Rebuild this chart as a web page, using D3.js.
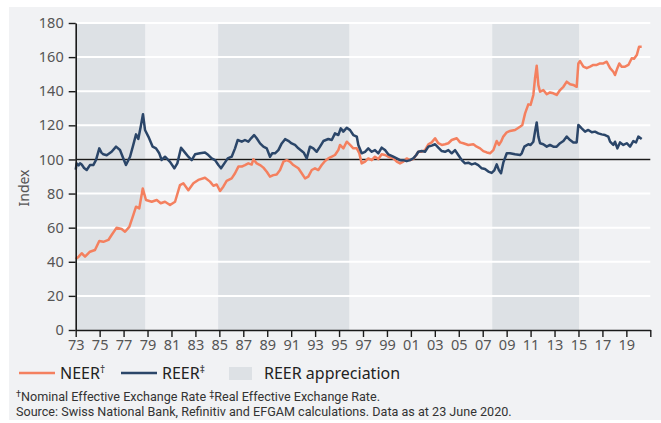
<!DOCTYPE html>
<meta charset="utf-8">
<head>
<script src="https://d3js.org/d3.v7.min.js"></script>
<style>
  body { margin: 0; background: #fff; }
  text { font-family: "Noto Sans", "Open Sans", sans-serif; }
</style>
</head>
<body>
<svg id="chart" width="661" height="423"></svg>

<script>
// Swiss franc effective exchange rates, index
var neer = [
  [1973.0, 41.6], [1973.25, 43], [1973.5, 45], [1973.78, 43], [1974.19, 45.9], [1974.61, 46.9],
  [1974.97, 52.2], [1975.31, 51.7], [1975.73, 52.8], [1976.0, 55.7], [1976.42, 60], [1976.84, 59.2],
  [1977.12, 57.6], [1977.48, 60.5], [1977.81, 67.4], [1978.04, 72.3], [1978.31, 71.3], [1978.6, 83],
  [1978.87, 76.2], [1979.35, 75.2], [1979.77, 76.2], [1980.10, 74.3], [1980.46, 75.2], [1980.88, 73.3],
  [1981.30, 75.2], [1981.71, 85], [1981.99, 86], [1982.41, 82], [1982.83, 86], [1983.24, 88],
  [1983.80, 89.3], [1984.22, 87], [1984.50, 84.6], [1984.78, 85.3], [1985.06, 81.5], [1985.33, 84],
  [1985.61, 87.4], [1986.03, 88.9], [1986.31, 91.9], [1986.59, 95.8], [1986.87, 95.8], [1987.14, 96.7],
  [1987.42, 97.7], [1987.70, 97], [1987.84, 100.1], [1988.12, 97.7], [1988.40, 96.7], [1988.68, 95.2],
  [1988.96, 92.8], [1989.23, 89.9], [1989.51, 90.8], [1989.79, 91.2], [1990.07, 93.8], [1990.35, 98.7],
  [1990.63, 99.6], [1990.90, 98.7], [1991.18, 96.7], [1991.60, 94.8], [1991.88, 91.9], [1992.16, 88.9],
  [1992.43, 89.9], [1992.72, 93.8], [1992.99, 94.8], [1993.27, 93.8], [1993.55, 96.7], [1993.83, 99.1],
  [1994.10, 100.6], [1994.39, 101.6], [1994.66, 102.6], [1994.94, 105.5], [1995.08, 108.5], [1995.36, 106.5],
  [1995.64, 110.4], [1995.92, 108.5], [1996.19, 106.5], [1996.48, 106.5], [1996.69, 103.6], [1996.89, 97.7],
  [1997.17, 98.7], [1997.44, 100.6], [1997.73, 99.6], [1998.0, 101.6], [1998.28, 100.2], [1998.56, 103],
  [1998.84, 102.6], [1999.11, 101.6], [1999.53, 100.6], [1999.82, 98.7], [2000.09, 97.7], [2000.37, 98.7],
  [2000.65, 100.6], [2000.93, 99.6], [2001.20, 100.2], [2001.45, 102.6], [2001.62, 104.5], [2001.91, 104.5],
  [2002.18, 105.5], [2002.46, 108.9], [2002.74, 110.0], [2003.02, 112.4], [2003.29, 109.5], [2003.58, 108.5],
  [2003.85, 108.9], [2004.13, 109.5], [2004.41, 111.4], [2004.83, 112.4], [2005.11, 110], [2005.38, 109.5],
  [2005.80, 108.5], [2006.22, 108.9], [2006.50, 107.5], [2006.78, 106.5], [2007.05, 104.9], [2007.34, 104.1],
  [2007.61, 103.6], [2007.89, 105.5], [2008.17, 110.8], [2008.36, 108.5], [2008.53, 110.4], [2008.72, 113.4],
  [2009.01, 115.9], [2009.28, 116.7], [2009.70, 117.3], [2010.12, 119.2], [2010.31, 120.2], [2010.54, 127],
  [2010.81, 132.3], [2011.0, 132], [2011.23, 137.8], [2011.37, 147.6], [2011.51, 155.0], [2011.65, 143.6],
  [2011.79, 139.7], [2012.06, 140.7], [2012.35, 138.2], [2012.62, 139.3], [2012.90, 138.8], [2013.18, 137.8],
  [2013.46, 140.7], [2013.74, 142.6], [2014.02, 145.6], [2014.30, 144.1], [2014.57, 143.7], [2014.85, 142.6],
  [2014.99, 156.3], [2015.13, 157.7], [2015.41, 154.4], [2015.69, 153.5], [2015.97, 154.4], [2016.24, 155.4],
  [2016.53, 155.4], [2016.80, 156.3], [2017.08, 156.3], [2017.36, 157.3], [2017.64, 153.5], [2017.91, 151.4],
  [2018.05, 149.5], [2018.25, 153.5], [2018.41, 156.3], [2018.61, 154.4], [2018.89, 154.4], [2019.17, 155.4],
  [2019.45, 159.3], [2019.64, 159], [2019.87, 161.2], [2020.06, 166.1], [2020.28, 166.1]
];

var reer = [
  [1973.0, 94], [1973.08, 97.7], [1973.25, 96.5], [1973.36, 97.7], [1973.5, 97], [1973.7, 95],
  [1973.92, 93.8], [1974.19, 96.7], [1974.47, 96.7], [1974.7, 99.7], [1974.97, 106.5], [1975.15, 104],
  [1975.31, 103], [1975.59, 102.5], [1976.0, 104.5], [1976.37, 107.5], [1976.7, 105.5], [1976.98, 100.6],
  [1977.2, 96.7], [1977.54, 101.6], [1977.81, 108.5], [1978.04, 114.7], [1978.23, 112], [1978.43, 119.2],
  [1978.62, 126.5], [1978.79, 117.3], [1979.07, 113.4], [1979.43, 107.5], [1979.71, 106.5], [1979.98, 103.6],
  [1980.18, 99.7], [1980.46, 101.6], [1980.88, 98.6], [1981.24, 94.8], [1981.49, 97.7], [1981.8, 106.9],
  [1982.13, 104], [1982.41, 101.6], [1982.69, 99.6], [1982.97, 103], [1983.38, 103.6], [1983.80, 104.1],
  [1984.08, 102.6], [1984.36, 100.6], [1984.64, 99.6], [1984.92, 96.7], [1985.14, 94.8], [1985.42, 97.7],
  [1985.70, 100.6], [1986.03, 101.6], [1986.31, 106.5], [1986.53, 111.4], [1986.87, 110.4], [1987.14, 111.4],
  [1987.42, 110.4], [1987.65, 112.4], [1987.90, 114.3], [1988.12, 112.4], [1988.40, 109.4], [1988.68, 107.5],
  [1988.96, 106.5], [1989.23, 101.6], [1989.42, 103.6], [1989.65, 103.6], [1989.93, 105.5], [1990.21, 109.4],
  [1990.49, 111.9], [1990.76, 110.9], [1991.04, 109.4], [1991.32, 108.5], [1991.60, 106.5], [1991.88, 105],
  [1992.05, 104], [1992.3, 100.6], [1992.57, 107.5], [1992.85, 106.5], [1993.13, 104.5], [1993.41, 107.5],
  [1993.69, 110.8], [1994.10, 112], [1994.39, 111.4], [1994.66, 115.3], [1994.94, 114.3], [1995.14, 118.2],
  [1995.36, 116.3], [1995.64, 118.6], [1995.92, 117.2], [1996.19, 114.3], [1996.48, 113.4], [1996.61, 108.5],
  [1996.89, 103.6], [1997.17, 104.5], [1997.44, 106.5], [1997.73, 104.5], [1998.0, 105.5], [1998.28, 103.6],
  [1998.56, 106.9], [1998.84, 105.5], [1999.11, 103], [1999.53, 101.6], [1999.82, 100.6], [2000.09, 99.6],
  [2000.37, 99.6], [2000.65, 99], [2000.93, 99.6], [2001.2, 100.6], [2001.45, 102.6], [2001.62, 104.5],
  [2001.91, 104.9], [2002.18, 104.5], [2002.46, 107.5], [2002.74, 108.1], [2003.02, 108.9], [2003.29, 106.9],
  [2003.58, 104.9], [2003.85, 104.5], [2004.13, 105.5], [2004.41, 103.6], [2004.69, 105.5], [2004.96, 102.6],
  [2005.25, 99.6], [2005.52, 97.7], [2005.80, 98.1], [2006.08, 97.1], [2006.36, 97.7], [2006.63, 96.7],
  [2006.92, 94.8], [2007.19, 94.4], [2007.47, 92.9], [2007.75, 92.1], [2007.97, 93.6], [2008.17, 97.1],
  [2008.36, 93.6], [2008.53, 91.9], [2008.72, 98.1], [2009.01, 103.6], [2009.28, 103.6], [2009.70, 103],
  [2010.12, 102.6], [2010.26, 103.6], [2010.48, 107.5], [2010.81, 108.9], [2011.0, 108.5], [2011.23, 110.4],
  [2011.37, 116.3], [2011.51, 121.7], [2011.65, 113.4], [2011.79, 109.5], [2012.06, 108.9], [2012.35, 107.5],
  [2012.62, 108.5], [2012.90, 107.5], [2013.18, 107.5], [2013.46, 109.5], [2013.74, 110.8], [2014.02, 113.4],
  [2014.30, 111.4], [2014.57, 110], [2014.85, 110], [2014.99, 120.2], [2015.27, 118.2], [2015.55, 116.3],
  [2015.82, 117.3], [2016.11, 115.9], [2016.38, 116.3], [2016.66, 115.3], [2016.94, 114.7], [2017.22, 114.3],
  [2017.49, 113.4], [2017.64, 110.4], [2017.91, 108.5], [2018.05, 110.4], [2018.25, 106.5], [2018.47, 110],
  [2018.75, 108.5], [2019.03, 109.5], [2019.31, 107.5], [2019.58, 110.8], [2019.81, 110], [2020.0, 113.4],
  [2020.28, 112]
];

// periods of REER appreciation (shaded)
var shaded = [[1973, 1978.8], [1984.9, 1995.85], [2007.8, 2015.05]];

var yTicks = [0, 20, 40, 60, 80, 100, 120, 140, 160, 180];
var xTicks = d3.range(1973, 2022, 2);

var svg = d3.select("#chart");

// grey panel
svg.append("rect")
  .attr("x", 9).attr("y", 7)
  .attr("width", 652).attr("height", 413)
  .attr("fill", "#f1f2f4");

var x = d3.scaleLinear().domain([1973, 2021]).range([75.7, 650.3]);
var y = d3.scaleLinear().domain([0, 180]).range([330, 23]);

// shaded periods
svg.append("g")
  .selectAll("rect")
  .data(shaded)
  .enter()
  .append("rect")
    .attr("x", function (d) { return x(d[0]); })
    .attr("width", function (d) { return x(d[1]) - x(d[0]); })
    .attr("y", y(180))
    .attr("height", y(0) - y(180))
    .attr("fill", "#dde1e5");

// white gridlines
svg.append("g")
  .selectAll("line")
  .data(yTicks.filter(function (d) { return d > 0; }))
  .enter()
  .append("line")
    .attr("x1", x(1973)).attr("x2", x(2021))
    .attr("y1", function (d) { return y(d); })
    .attr("y2", function (d) { return y(d); })
    .attr("stroke", "#fff")
    .attr("stroke-width", 2);

// line at 100
svg.append("line")
  .attr("x1", x(1973)).attr("x2", x(2021))
  .attr("y1", y(100)).attr("y2", y(100))
  .attr("stroke", "#1a1a1a")
  .attr("stroke-width", 1.4);

var line = d3.line()
  .x(function (d) { return x(d[0]); })
  .y(function (d) { return y(d[1]); });

svg.append("path")
  .datum(neer)
  .attr("d", line)
  .attr("fill", "none")
  .attr("stroke", "#f4805f")
  .attr("stroke-width", 2.5)
  .attr("stroke-linejoin", "round");

svg.append("path")
  .datum(reer)
  .attr("d", line)
  .attr("fill", "none")
  .attr("stroke", "#2b4669")
  .attr("stroke-width", 2.5)
  .attr("stroke-linejoin", "round");

// axes
var yAxis = svg.append("g")
  .attr("transform", "translate(" + x(1973) + ",0)")
  .call(d3.axisLeft(y).tickValues(yTicks).tickSize(7).tickSizeOuter(0).tickPadding(5));

var xAxis = svg.append("g")
  .attr("transform", "translate(0," + y(0) + ")")
  .call(d3.axisBottom(x).tickValues(xTicks).tickSize(7).tickSizeOuter(0).tickPadding(3)
    .tickFormat(function (d) { return d === 2021 ? "" : String(d).slice(2); }));

[yAxis, xAxis].forEach(function (g) {
  g.select(".domain").attr("stroke", "#1a1a1a").attr("stroke-width", 1.6);
  g.selectAll(".tick line").attr("stroke", "#1a1a1a").attr("stroke-width", 1.4);
  g.selectAll(".tick text")
    .attr("fill", "#555")
    .style("font-size", "14.5px")
    .style("font-family", "'Noto Sans', sans-serif");
});

// y label
svg.append("text")
  .attr("transform", "translate(29,188) rotate(-90)")
  .attr("text-anchor", "middle")
  .attr("fill", "#555")
  .style("font-size", "14px")
  .text("Index");

// legend
var legend = svg.append("g").attr("transform", "translate(0,373)");

legend.append("line")
  .attr("x1", 19).attr("x2", 55).attr("y1", 0).attr("y2", 0)
  .attr("stroke", "#f4805f").attr("stroke-width", 2.5);
var t1 = legend.append("text").attr("x", 60).attr("y", 6)
  .attr("fill", "#222").style("font-size", "16px");
t1.append("tspan").text("NEER");
t1.append("tspan").attr("dy", -6).style("font-size", "10px").text("\u2020");

legend.append("line")
  .attr("x1", 121).attr("x2", 157).attr("y1", 0).attr("y2", 0)
  .attr("stroke", "#2b4669").attr("stroke-width", 2.5);
var t2 = legend.append("text").attr("x", 162).attr("y", 6)
  .attr("fill", "#222").style("font-size", "16px");
t2.append("tspan").text("REER");
t2.append("tspan").attr("dy", -6).style("font-size", "10px").text("\u2021");

legend.append("rect")
  .attr("x", 229).attr("y", -6).attr("width", 23).attr("height", 13)
  .attr("fill", "#dde1e5");
legend.append("text").attr("x", 264).attr("y", 6)
  .attr("fill", "#222").style("font-size", "16px")
  .text("REER appreciation");

// footnotes (Roboto: tighter line box so the two lines don't collide)
var f1 = svg.append("text").attr("x", 16).attr("y", 401)
  .attr("fill", "#333").style("font-family", "Roboto, sans-serif").style("font-size", "12.6px");
f1.append("tspan").attr("dy", -4).style("font-size", "9px").text("\u2020");
f1.append("tspan").attr("dy", 4).text("Nominal Effective Exchange Rate ");
f1.append("tspan").attr("dy", -4).style("font-size", "9px").text("\u2021");
f1.append("tspan").attr("dy", 4).text("Real Effective Exchange Rate.");

svg.append("text").attr("x", 16).attr("y", 416)
  .attr("fill", "#333").style("font-family", "Roboto, sans-serif").style("font-size", "12.6px")
  .text("Source: Swiss National Bank, Refinitiv and EFGAM calculations. Data as at 23 June 2020.");
</script>
</body>
</html>
